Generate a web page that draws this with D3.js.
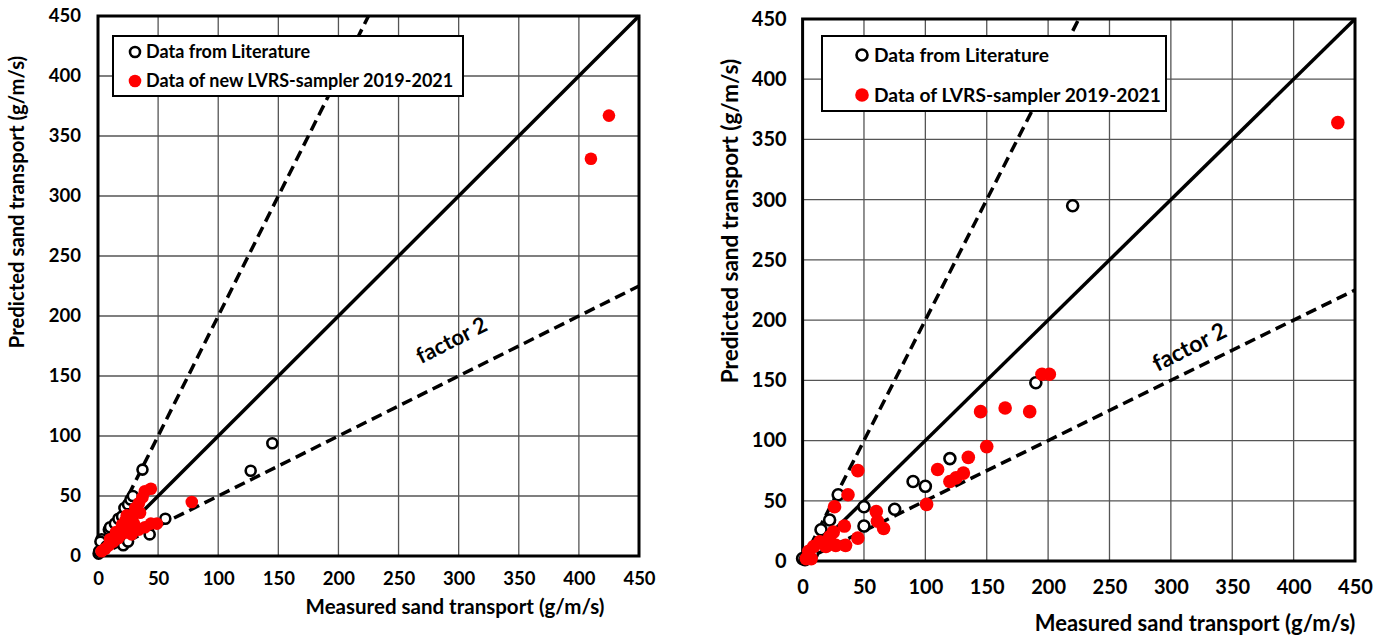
<!DOCTYPE html>
<html>
<head>
<meta charset="utf-8">
<script src="https://cdn.jsdelivr.net/npm/d3@7"></script>
<style>
  body { margin: 0; background: #fff; }
  svg { display: block; font-family: Lato, "Open Sans", sans-serif; font-weight: bold; }
</style>
</head>
<body>
<script>
// tick values shared by both panels
var ticks = [0, 50, 100, 150, 200, 250, 300, 350, 400, 450];

// left panel: [measured, predicted]
var litLeft = [[0.5,2],[1,4],[3,14],[2,12],[7,8],[9,22],[10,24],[14,27],[17,31],[20,33],[22,40],
  [25,43],[27,47],[29,50],[37,72],[21,9],[25,12],[43,18],[56,31],[127,71],[145,94],[15,18]];
var lvrsLeft = [[3,4],[6,6],[9,9],[13,12],[17,15],[21,19],[24,34],[28,31],[31,40],[34,44],[37,49],
  [39,54],[44,56],[49,27],[44,27],[39,24],[34,22],[26,23],[28,18],[20,26],[23,30],[35,36],[30,27],
  [15,20],[10,14],[78,45],[410,331],[425,367]];

// right panel: [measured, predicted]
var litRight = [[0,2],[2,1],[5,3],[8,6],[15,26],[22,34],[29,55],[50,45],[50,29],[75,43],[90,66],
  [100,62],[120,85],[190,148],[220,295]];
var lvrsRight = [[3,2],[5,8],[7,2],[9,12],[14,16],[19,12],[22,20],[25,24],[26,45],[27,13],[34,29],
  [35,13],[37,55],[45,19],[45,75],[60,41],[61,33],[66,27],[101,47],[110,76],[120,66],[125,69],
  [131,73],[135,86],[145,124],[150,95],[165,127],[185,124],[195,155],[201,155],[436,364]];

var svg = d3.select("body").append("svg")
  .attr("width", 1387)
  .attr("height", 638);

function panel(p) {
  var x = d3.scaleLinear().domain([0, 450]).range([p.left, p.right]);
  var y = d3.scaleLinear().domain([0, 450]).range([p.bottom, p.top]);
  var g = svg.append("g");

  // grid
  g.selectAll(".gx").data(ticks.slice(1, -1)).enter().append("line")
    .attr("x1", d => x(d)).attr("x2", d => x(d))
    .attr("y1", p.top).attr("y2", p.bottom)
    .attr("stroke", "#555").attr("stroke-width", 1.3);
  g.selectAll(".gy").data(ticks.slice(1, -1)).enter().append("line")
    .attr("y1", d => y(d)).attr("y2", d => y(d))
    .attr("x1", p.left).attr("x2", p.right)
    .attr("stroke", "#555").attr("stroke-width", 1.3);

  // 1:1 and factor 2 lines
  var line = d3.line().x(d => x(d[0])).y(d => y(d[1]));
  g.append("path").attr("d", line([[0,0],[450,450]]))
    .attr("stroke", "#000").attr("stroke-width", 3.5).attr("fill", "none");
  g.append("path").attr("d", line([[0,0],[225,450]]))
    .attr("stroke", "#000").attr("stroke-width", 3.5).attr("stroke-dasharray", "11,6").attr("fill", "none");
  g.append("path").attr("d", line([[0,0],[450,225]]))
    .attr("stroke", "#000").attr("stroke-width", 3.5).attr("stroke-dasharray", "11,6").attr("fill", "none");

  // factor 2 label
  g.append("text").text("factor 2")
    .attr("transform", "translate(" + p.f2[0] + "," + p.f2[1] + ") rotate(-27)")
    .attr("text-anchor", "middle").attr("font-size", p.f2[2] + "px");

  // frame
  g.append("rect").attr("x", p.left).attr("y", p.top)
    .attr("width", p.right - p.left).attr("height", p.bottom - p.top)
    .attr("fill", "none").attr("stroke", "#000").attr("stroke-width", 3);

  // axes
  var xa = g.append("g").attr("transform", "translate(0," + p.bottom + ")")
    .call(d3.axisBottom(x).tickValues(ticks).tickSize(0).tickPadding(p.xpad));
  var ya = g.append("g").attr("transform", "translate(" + p.left + ",0)")
    .call(d3.axisLeft(y).tickValues(ticks).tickSize(0).tickPadding(p.ypad));
  [xa, ya].forEach(function(a) {
    a.select(".domain").remove();
    a.selectAll("text").attr("font-size", p.tick + "px").attr("font-family", "Lato")
      .attr("font-weight", "bold").attr("fill", "#000");
  });

  // points
  g.selectAll(".lit").data(p.lit).enter().append("circle")
    .attr("cx", d => x(d[0])).attr("cy", d => y(d[1])).attr("r", p.r - 1.3)
    .attr("fill", "#fff").attr("stroke", "#000").attr("stroke-width", 2.6);
  g.selectAll(".lvrs").data(p.lvrs).enter().append("circle")
    .attr("cx", d => x(d[0])).attr("cy", d => y(d[1])).attr("r", p.r)
    .attr("fill", "#ff0000");

  // axis titles
  g.append("text").text("Measured sand transport (g/m/s)")
    .attr("x", p.xt[0]).attr("y", p.xt[1]).attr("text-anchor", "middle")
    .attr("font-size", p.xt[2] + "px");
  g.append("text").text("Predicted sand transport (g/m/s)")
    .attr("transform", "translate(" + p.yt[0] + "," + p.yt[1] + ") rotate(-90)")
    .attr("text-anchor", "middle").attr("font-size", p.yt[2] + "px");

  // legend
  var L = p.leg;
  g.append("rect").attr("x", L.x).attr("y", L.y).attr("width", L.w).attr("height", L.h)
    .attr("fill", "#fff").attr("stroke", "#000").attr("stroke-width", 2);
  g.append("circle").attr("cx", L.mx).attr("cy", L.r1).attr("r", p.r - 1.3)
    .attr("fill", "#fff").attr("stroke", "#000").attr("stroke-width", 2.6);
  g.append("circle").attr("cx", L.mx).attr("cy", L.r2).attr("r", p.r).attr("fill", "#ff0000");
  g.append("text").text("Data from Literature").attr("x", L.tx).attr("y", L.r1)
    .attr("dy", "0.35em").attr("font-size", L.fs + "px");
  g.append("text").text(L.label2).attr("x", L.tx).attr("y", L.r2)
    .attr("dy", "0.35em").attr("font-size", L.fs + "px");
}

panel({
  left: 98, right: 639, top: 16, bottom: 556,
  lit: litLeft, lvrs: lvrsLeft, r: 6.3,
  tick: 18.5, xpad: 16, ypad: 17,
  xt: [455, 614, 20.5], yt: [24, 202, 20.3],
  f2: [455, 347, 22],
  leg: { x: 113, y: 36, w: 350, h: 60, mx: 135, tx: 146, r1: 52, r2: 81, fs: 18,
         label2: "Data of new LVRS-sampler 2019-2021" }
});

panel({
  left: 802.6, right: 1355, top: 19, bottom: 561,
  lit: litRight, lvrs: lvrsRight, r: 6.8,
  tick: 20, xpad: 19, ypad: 16,
  xt: [1195, 631, 22], yt: [738, 221, 22.5],
  f2: [1193, 354, 23],
  leg: { x: 822, y: 36, w: 344, h: 75, mx: 862, tx: 874, r1: 55, r2: 95, fs: 19.2,
         label2: "Data of LVRS-sampler 2019-2021" }
});
</script>
</body>
</html>
